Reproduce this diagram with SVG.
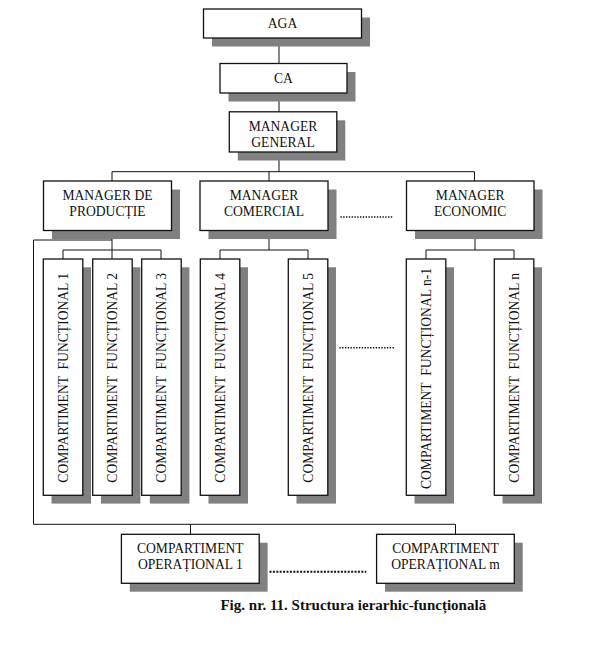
<svg xmlns="http://www.w3.org/2000/svg" width="595" height="661" viewBox="0 0 595 661">
<style>
.sh{fill:#808080;stroke:none}
.bx{fill:#fff;stroke:#111;stroke-width:1.3}
.t{font-family:"Liberation Serif","Times New Roman",serif;font-size:13.6px;fill:#111;text-anchor:middle}
.v{white-space:pre}
.cap{font-family:"Liberation Serif","Times New Roman",serif;font-size:15px;font-weight:bold;fill:#111;text-anchor:middle}
.ln{fill:none;stroke:#111;stroke-width:1}
.dot{fill:none;stroke:#111;stroke-width:1.4;stroke-dasharray:1.4 1.4}
.dotb{fill:none;stroke:#111;stroke-width:2;stroke-dasharray:2 1.4}
</style>
<rect width="595" height="661" fill="#fff"/>
<g id="connectors">
<path class="ln" d="M279 38V63.5M279 93V111.8M279 152V171.7M112 171.7H474.5M112 171.7V181M269 171.7V181M474.5 171.7V181"/>
<path class="ln" d="M112 230.5V259M63 250H161M63 250V259M161 250V259"/>
<path class="ln" d="M269 230.5V250M220 250H308M220 250V259M308 250V259"/>
<path class="ln" d="M475 230.5V250M426 250H514M426 250V259M514 250V259"/>
<path class="ln" d="M112 240H33.5V524.3H455.5M190.5 524.3V534.3M455.5 524.3V534.3"/>
</g>
<g id="aga"><rect class="sh" x="212" y="17.5" width="158" height="29"/><rect class="bx" x="203.5" y="9" width="158" height="29"/><text class="t" x="282.5" y="28">AGA</text></g>
<g id="ca"><rect class="sh" x="228.5" y="72" width="127" height="29.5"/><rect class="bx" x="220" y="63.5" width="127" height="29.5"/><text class="t" x="283.5" y="83">CA</text></g>
<g id="mg"><rect class="sh" x="237.8" y="120.3" width="107.5" height="40.2"/><rect class="bx" x="229.3" y="111.8" width="107.5" height="40.2"/><text class="t" x="283" y="131.3">MANAGER</text><text class="t" x="283" y="147">GENERAL</text></g>
<g id="mdp"><rect class="sh" x="52" y="189.5" width="128" height="49.5"/><rect class="bx" x="43.5" y="181" width="128" height="49.5"/><text class="t" x="107.5" y="199.7">MANAGER DE</text><text class="t" x="107.5" y="215.7">PRODUCȚIE</text></g>
<g id="mc"><rect class="sh" x="208.5" y="189.5" width="128" height="49.5"/><rect class="bx" x="200" y="181" width="128" height="49.5"/><text class="t" x="264" y="199.7">MANAGER</text><text class="t" x="264" y="215.7">COMERCIAL</text></g>
<g id="me"><rect class="sh" x="415" y="189.5" width="127.5" height="49.5"/><rect class="bx" x="406.5" y="181" width="127.5" height="49.5"/><text class="t" x="470.2" y="199.7">MANAGER</text><text class="t" x="470.2" y="215.7">ECONOMIC</text></g>
<path id="dots-managers" class="dot" d="M340.4 217H393.5"/>
<g id="cf1"><rect class="sh" x="51.5" y="267.3" width="39.5" height="236.3"/><rect class="bx" x="43.3" y="259" width="39.5" height="236.3"/><text class="t v" xml:space="preserve" transform="translate(67.6,377.8) rotate(-90)">COMPARTIMENT  FUNCȚIONAL 1</text></g>
<g id="cf2"><rect class="sh" x="100.9" y="267.3" width="39.5" height="236.3"/><rect class="bx" x="92.7" y="259" width="39.5" height="236.3"/><text class="t v" xml:space="preserve" transform="translate(117,377.8) rotate(-90)">COMPARTIMENT  FUNCȚIONAL 2</text></g>
<g id="cf3"><rect class="sh" x="149.9" y="267.3" width="39.5" height="236.3"/><rect class="bx" x="141.7" y="259" width="39.5" height="236.3"/><text class="t v" xml:space="preserve" transform="translate(166,377.8) rotate(-90)">COMPARTIMENT  FUNCȚIONAL 3</text></g>
<g id="cf4"><rect class="sh" x="208.5" y="267.3" width="39.5" height="236.3"/><rect class="bx" x="200.3" y="259" width="39.5" height="236.3"/><text class="t v" xml:space="preserve" transform="translate(224.6,377.8) rotate(-90)">COMPARTIMENT  FUNCȚIONAL 4</text></g>
<g id="cf5"><rect class="sh" x="296.5" y="267.3" width="39.5" height="236.3"/><rect class="bx" x="288.3" y="259" width="39.5" height="236.3"/><text class="t v" xml:space="preserve" transform="translate(312.6,377.8) rotate(-90)">COMPARTIMENT  FUNCȚIONAL 5</text></g>
<path id="dots-functional" class="dot" d="M339.3 347.7H395"/>
<g id="cfn1"><rect class="sh" x="414.5" y="267.3" width="39.5" height="236.3"/><rect class="bx" x="406.3" y="259" width="39.5" height="236.3"/><text class="t v" xml:space="preserve" transform="translate(430.6,378.5) rotate(-90)">COMPARTIMENT  FUNCȚIONAL n-1</text></g>
<g id="cfn"><rect class="sh" x="502.5" y="267.3" width="39.5" height="236.3"/><rect class="bx" x="494.3" y="259" width="39.5" height="236.3"/><text class="t v" xml:space="preserve" transform="translate(518.6,377.8) rotate(-90)">COMPARTIMENT  FUNCȚIONAL n</text></g>
<g id="co1"><rect class="sh" x="129.8" y="542.7" width="137.8" height="49"/><rect class="bx" x="121.4" y="534.3" width="137.8" height="49"/><text class="t" x="190.3" y="552.9">COMPARTIMENT</text><text class="t" x="190.3" y="568.6">OPERAȚIONAL 1</text></g>
<path id="dots-operational" class="dotb" d="M269.5 571.7H366.2"/>
<g id="com"><rect class="sh" x="385" y="542.7" width="137.7" height="49"/><rect class="bx" x="376.6" y="534.3" width="137.7" height="49"/><text class="t" x="445.5" y="552.9">COMPARTIMENT</text><text class="t" x="445.5" y="568.6">OPERAȚIONAL m</text></g>
<text id="caption" class="cap" x="353.3" y="609.5">Fig. nr. 11. Structura ierarhic-funcțională</text>
</svg>
